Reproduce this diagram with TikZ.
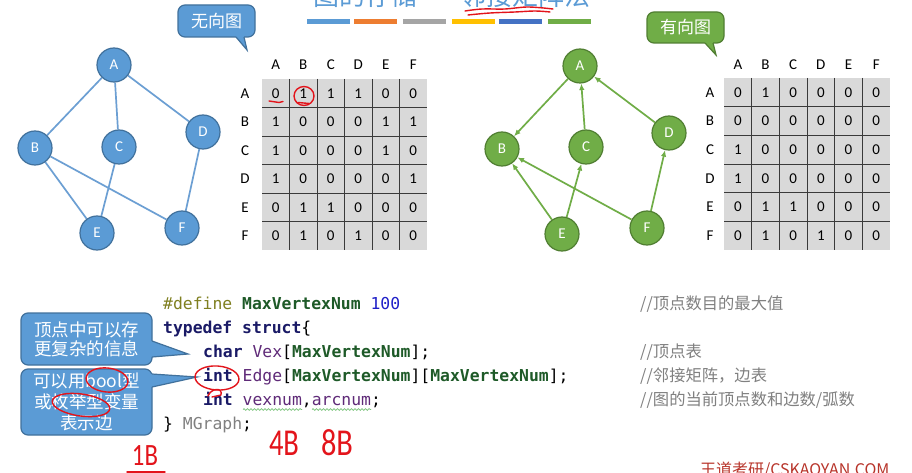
\documentclass[tikz,border=0pt]{standalone}
\usepackage{fontspec}
\usepackage{graphicx}
\setmainfont{Carlito}
\setmonofont{DejaVu Sans Mono}
\newfontfamily\cjk{Noto Sans CJK SC}
\usetikzlibrary{arrows.meta,decorations.pathmorphing,backgrounds}

% palette
\definecolor{ublue}{HTML}{5B9BD5}
\definecolor{ubluedark}{HTML}{41719C}
\definecolor{uedgecol}{HTML}{6C9FD3}
\definecolor{dgreen}{HTML}{70AD47}
\definecolor{dgreendark}{HTML}{507E32}
\definecolor{cellgray}{HTML}{D9D9D9}
\definecolor{gridcol}{HTML}{3A3A3A}
\definecolor{barorange}{HTML}{ED7D31}
\definecolor{bargray}{HTML}{A5A5A5}
\definecolor{baryellow}{HTML}{FFC000}
\definecolor{barblue}{HTML}{4472C4}
\definecolor{inkred}{HTML}{E3141B}
\definecolor{cdef}{HTML}{7F7F1F}
\definecolor{cmac}{HTML}{1E5A28}
\definecolor{cnum}{HTML}{1F1FC8}
\definecolor{ckw}{HTML}{1A1A66}
\definecolor{cvar}{HTML}{5F2A78}
\definecolor{ccom}{HTML}{808080}
\definecolor{wmred}{HTML}{B8342A}
\definecolor{squig}{HTML}{7CC47C}

% code colouring
\newcommand{\kwd}[1]{\textcolor{ckw}{\bfseries #1}}
\newcommand{\mname}[1]{\textcolor{cmac}{\bfseries #1}}
\newcommand{\vname}[1]{\textcolor{cvar}{#1}}

\tikzset{
  unode/.style={circle, fill=ublue, draw=ubluedark, line width=1.2pt,
    minimum size=34pt, inner sep=0pt, text=white, font=\fontsize{15}{15}\selectfont},
  dnode/.style={circle, fill=dgreen, draw=dgreendark, line width=1.2pt,
    minimum size=34pt, inner sep=0pt, text=white, font=\fontsize{15}{15}\selectfont},
  uline/.style={draw=uedgecol, line width=1.7pt},
  arrowline/.style={draw=dgreen, line width=1.7pt, -{Latex[length=6.5pt,width=5.5pt]}},
  cellnum/.style={inner sep=0pt, font=\fontsize{15}{15}\selectfont},
  gridrule/.style={draw=gridcol, line width=0.8pt},
  callbox/.style={rounded corners=7pt, line width=1.2pt, inner sep=0pt,
    text=white, align=center},
  code/.style={font=\ttfamily\fontsize{16.4}{20}\selectfont, inner sep=0pt, anchor=base west},
  comment/.style={font=\cjk\fontsize{16.3}{20}\selectfont, text=ccom, inner sep=0pt, anchor=base west},
  hand/.style={draw=inkred, line width=1.4pt, line cap=round, line join=round},
  handtext/.style={text=inkred, inner sep=0pt},
  squiggle/.style={draw=squig, line width=0.7pt,
    decorate, decoration={snake, amplitude=0.9pt, segment length=3.5pt}},
}

\begin{document}
\begin{tikzpicture}[x=1pt, y=-1pt]
\useasboundingbox (0,0) rectangle (912,473);
\begin{scope}[on background layer]
  \fill[white] (0,0) rectangle (912,473);
\end{scope}
\clip (0,0) rectangle (912,473);

% ---------- title and colour bars ----------
\node[anchor=base west, inner sep=0pt, text=ublue, font=\cjk\fontsize{26}{26}\selectfont]
  (title) at (313,6) {图的存储——邻接矩阵法};
\foreach \xa/\col in {307/ublue, 354/barorange, 403/bargray, 452/baryellow, 499/barblue, 548/dgreen}
  \draw[line width=4.5pt, \col] (\xa,21.5) -- ++(43,0);

% ---------- callouts above the graphs ----------
\node[callbox, fill=ublue, draw=ubluedark, minimum width=77pt, minimum height=32pt,
  font=\cjk\fontsize{17}{17}\selectfont] (undir) at (216.5,21) {无向图};
\fill[ublue] (236,37) -- (247,50) -- (244,37) -- (244,35) -- (236,35) -- cycle;
\draw[ubluedark, line width=1.2pt] (236,37) -- (247,50) -- (244,37);

\node[callbox, fill=dgreen, draw=dgreendark, minimum width=77pt, minimum height=31pt,
  font=\cjk\fontsize{17}{17}\selectfont] (dir) at (685.5,27.5) {有向图};
\fill[dgreen] (705,43) -- (716,55) -- (713,43) -- (713,41) -- (705,41) -- cycle;
\draw[dgreendark, line width=1.2pt] (705,43) -- (716,55) -- (713,43);

% ---------- undirected graph ----------
\node[unode] (uA) at (114,65) {A};
\node[unode] (uB) at (35,148) {B};
\node[unode] (uC) at (119,147) {C};
\node[unode] (uD) at (203,132) {D};
\node[unode] (uE) at (97,233) {E};
\node[unode] (uF) at (182,228) {F};
\begin{scope}[on background layer]
\foreach \p/\q in {uA/uB, uA/uC, uA/uD, uB/uE, uB/uF, uC/uE, uD/uF}
  \draw[uline] (\p) -- (\q);
\end{scope}

% ---------- directed graph ----------
\node[dnode] (dA) at (580,66) {A};
\node[dnode] (dB) at (502,149) {B};
\node[dnode] (dC) at (586,147) {C};
\node[dnode] (dD) at (669,133) {D};
\node[dnode] (dE) at (562,234) {E};
\node[dnode] (dF) at (647,228) {F};
\foreach \p/\q in {dA/dB, dC/dA, dD/dA, dE/dB, dE/dC, dF/dB, dF/dD}
  \draw[arrowline] (\p) -- (\q);

% ---------- adjacency matrix of the undirected graph ----------
\fill[cellgray] (262,79) rectangle (427,250);
\foreach \i in {1,...,5} {
  \draw[gridrule] ({262+27.5*\i},79) -- ({262+27.5*\i},250);
  \draw[gridrule] (262,{79+28.5*\i}) -- (427,{79+28.5*\i});
}
\foreach \h [count=\c] in {A,B,C,D,E,F} {
  \node[cellnum] (LH-\c) at ({262+27.5*(\c-0.5)},65) {\h};
  \node[cellnum] (LR-\c) at (245,{79+28.5*(\c-0.5)}) {\h};
}
\foreach \row [count=\r] in {{0,1,1,1,0,0},{1,0,0,0,1,1},{1,0,0,0,1,0},
                             {1,0,0,0,0,1},{0,1,1,0,0,0},{0,1,0,1,0,0}}
  \foreach \v [count=\c] in \row
    \node[cellnum] (L-\r-\c) at ({262+27.5*(\c-0.5)},{79+28.5*(\r-0.5)}) {\v};

% ---------- adjacency matrix of the directed graph ----------
\fill[cellgray] (724,78) rectangle (890,250);
\foreach \i in {1,...,5} {
  \draw[gridrule] ({724+27.67*\i},78) -- ({724+27.67*\i},250);
  \draw[gridrule] (724,{78+28.67*\i}) -- (890,{78+28.67*\i});
}
\foreach \h [count=\c] in {A,B,C,D,E,F} {
  \node[cellnum] (RH-\c) at ({724+27.67*(\c-0.5)},65) {\h};
  \node[cellnum] (RR-\c) at (710,{78+28.67*(\c-0.5)}) {\h};
}
\foreach \row [count=\r] in {{0,1,0,0,0,0},{0,0,0,0,0,0},{1,0,0,0,0,0},
                             {1,0,0,0,0,0},{0,1,1,0,0,0},{0,1,0,1,0,0}}
  \foreach \v [count=\c] in \row
    \node[cellnum] (R-\r-\c) at ({724+27.67*(\c-0.5)},{78+28.67*(\r-0.5)}) {\v};

% ---------- code ----------
\node[code] (c1) at (163,309) {\textcolor{cdef}{\#define} \mname{MaxVertexNum} \textcolor{cnum}{100}};
\node[code] (c2) at (163,333) {\kwd{typedef struct}\{};
\node[code] (c3) at (203,357) {\kwd{char} \vname{Vex}[\mname{MaxVertexNum}];};
\node[code] (c4) at (203,381) {\kwd{int} \vname{Edge}[\mname{MaxVertexNum}][\mname{MaxVertexNum}];};
\node[code] (c5) at (203,405) {\kwd{int} \vname{vexnum},\vname{arcnum};};
\node[code] (c6) at (163,429) {\} \textcolor{ccom}{MGraph};};
\draw[squiggle] (243,409.5) -- (302,409.5);
\draw[squiggle] (312,409.5) -- (371,409.5);

\node[comment] (m1) at (640,309) {//顶点数目的最大值};
\node[comment] (m3) at (640,357) {//顶点表};
\node[comment] (m4) at (640,381) {//邻接矩阵，边表};
\node[comment] (m5) at (640,405) {//图的当前顶点数和边数/弧数};

% ---------- callouts beside the code ----------
\node[callbox, fill=ublue, draw=ubluedark, minimum width=131pt, minimum height=52pt,
  font=\cjk\fontsize{17.5}{19}\selectfont] (note1) at (86.5,339) {顶点中可以存\\更复杂的信息};
\fill[ublue] (152,341) -- (188,354) -- (152,357) -- (150,357) -- (150,341) -- cycle;
\draw[ubluedark, line width=1.2pt] (152,341) -- (188,354) -- (152,357);

\node[callbox, fill=ublue, draw=ubluedark, minimum width=131pt, minimum height=66pt,
  font=\cjk\fontsize{17.5}{21}\selectfont] (note2) at (86.5,402) {可以用bool型\\或枚举型变量\\表示边};
\fill[ublue] (152,374) -- (197,377) -- (152,387) -- (150,387) -- (150,374) -- cycle;
\draw[ubluedark, line width=1.2pt] (152,374) -- (197,377) -- (152,387);

% ---------- handwritten marks ----------
\draw[hand] plot[smooth, tension=0.6] coordinates {(465,11)(482,9)(505,9)(528,7)(553,9)};
\draw[hand] plot[smooth, tension=0.6] coordinates {(468,15)(490,13)(515,12)(535,11)(550,12)};
\draw[hand] (269,101) -- (279,102.5) -- (283,101.5);
\draw[hand] (304,96) ellipse [x radius=10, y radius=9.5];
\draw[hand] (298,102.5) -- (309,103.5);
\draw[hand] (107,380) ellipse [x radius=21, y radius=12, rotate=-6];
\draw[hand] (81,405) ellipse [x radius=29, y radius=11, rotate=-8];
\draw[hand] (217,378) ellipse [x radius=22, y radius=12, rotate=-4];
\draw[hand] (208,396) .. controls (211,388) and (223,387) .. (221,395) -- (212,397);
\node[handtext, font=\fontsize{38}{38}\selectfont] (w4) at (284,443) {\scalebox{0.75}[1]{4B}};
\node[handtext, font=\fontsize{38}{38}\selectfont] (w8) at (337,443) {\scalebox{0.8}[1]{8B}};
\node[handtext, font=\fontsize{31}{31}\selectfont] (w1) at (145,456) {\scalebox{0.8}[1]{1B}};
\draw[hand] (127,472) -- (165,472);

% ---------- footer ----------
\node[anchor=base west, inner sep=0pt, text=wmred, font=\cjk\fontsize{16}{16}\selectfont]
  (wm) at (700,475) {王道考研/CSKAOYAN.COM};
\end{tikzpicture}
\end{document}
